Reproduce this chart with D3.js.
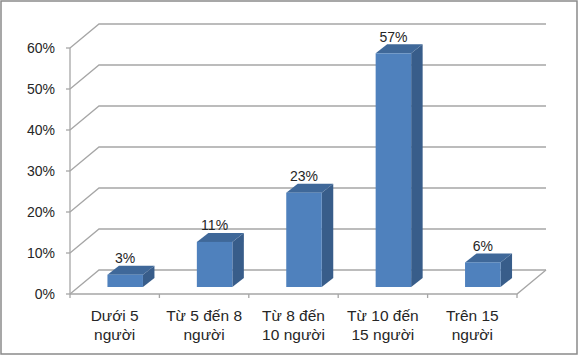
<!DOCTYPE html>
<html><head><meta charset="utf-8">
<script src="https://cdn.jsdelivr.net/npm/d3@7"></script>
<style>body{margin:0;background:#fff}svg{display:block}text{font-family:"Liberation Sans",Arial,sans-serif;fill:#262626}</style>
</head><body>
<svg id="c" width="581" height="358"></svg>
<script>
const categories = [["Dưới 5","người"],["Từ 5 đến 8","người"],["Từ 8 đến","10 người"],["Từ 10 đến","15 người"],["Trên 15","người"]];
const values = [0.03, 0.11, 0.23, 0.57, 0.06];
const labels = ["3%","11%","23%","57%","6%"];
const yTicks = [0, 0.1, 0.2, 0.3, 0.4, 0.5, 0.6];

const svg = d3.select("#c");
svg.append("rect").attr("x",1).attr("y",1).attr("width",576).attr("height",353)
  .attr("fill","#fff").attr("stroke","#8a8a8a").attr("stroke-width",1.5);

const x0 = 70, x1 = 517, y0 = 294, yTop = 48;
const DX = 29, DY = -24; // wall depth
const y = d3.scaleLinear().domain([0,0.6]).range([y0,yTop]);
const x = d3.scaleBand().domain(d3.range(categories.length)).range([x0,x1]).paddingInner(0).paddingOuter(0);
const grid = "#a6a6a6";

yTicks.forEach(t=>{
  const yy = y(t);
  svg.append("polyline").attr("points",`${x0},${yy} ${x0+DX},${yy+DY} ${x1+DX},${yy+DY}`)
    .attr("fill","none").attr("stroke",grid).attr("stroke-width",1.3);
});
svg.append("polyline").attr("points",`${x0},${y0} ${x1},${y0} ${x1+DX},${y0+DY}`)
  .attr("fill","none").attr("stroke",grid).attr("stroke-width",1.3);
svg.append("line").attr("x1",x0).attr("x2",x0).attr("y1",yTop).attr("y2",y0).attr("stroke",grid).attr("stroke-width",1.3);
yTicks.forEach(t=>{
  svg.append("line").attr("x1",x0-4).attr("x2",x0).attr("y1",y(t)).attr("y2",y(t)).attr("stroke",grid).attr("stroke-width",1.3);
  svg.append("text").attr("x",55).attr("y",y(t)+5).attr("text-anchor","end").attr("font-size",14).text(d3.format(".0%")(t));
});
d3.range(categories.length+1).forEach(i=>{
  const xx = x0 + i*x.bandwidth();
  svg.append("line").attr("x1",xx).attr("x2",xx).attr("y1",y0).attr("y2",y0+4).attr("stroke",grid).attr("stroke-width",1.3);
});

const bw = 35.5, off = 10.5, bdx = 11.5, bdy = -9, bfy = -7;
values.forEach((v,i)=>{
  const left = x(i) + (x.bandwidth()-bw)/2 + off;
  const right = left + bw;
  const bottom = y(0) + bfy;
  const top = y(v) + bfy;
  const g = svg.append("g");
  g.append("polygon").attr("points",`${right},${top} ${right+bdx},${top+bdy} ${right+bdx},${bottom+bdy} ${right},${bottom}`).attr("fill","#385d8a");
  g.append("polygon").attr("points",`${left},${top} ${left+bdx},${top+bdy} ${right+bdx},${top+bdy} ${right},${top}`).attr("fill","#3f6899");
  g.append("rect").attr("x",left).attr("y",top).attr("width",bw).attr("height",bottom-top).attr("fill","#4f81bd");
  svg.append("text").attr("x",left+bw/2).attr("y",top-11.5).attr("text-anchor","middle").attr("font-size",14).text(labels[i]);
});

categories.forEach((c,i)=>{
  const cx = x(i)+x.bandwidth()/2;
  c.forEach((line,j)=>{
    svg.append("text").attr("x",cx).attr("y",321+j*18.5).attr("text-anchor","middle").attr("font-size",15.5).text(line);
  });
});
</script>
</body></html>
